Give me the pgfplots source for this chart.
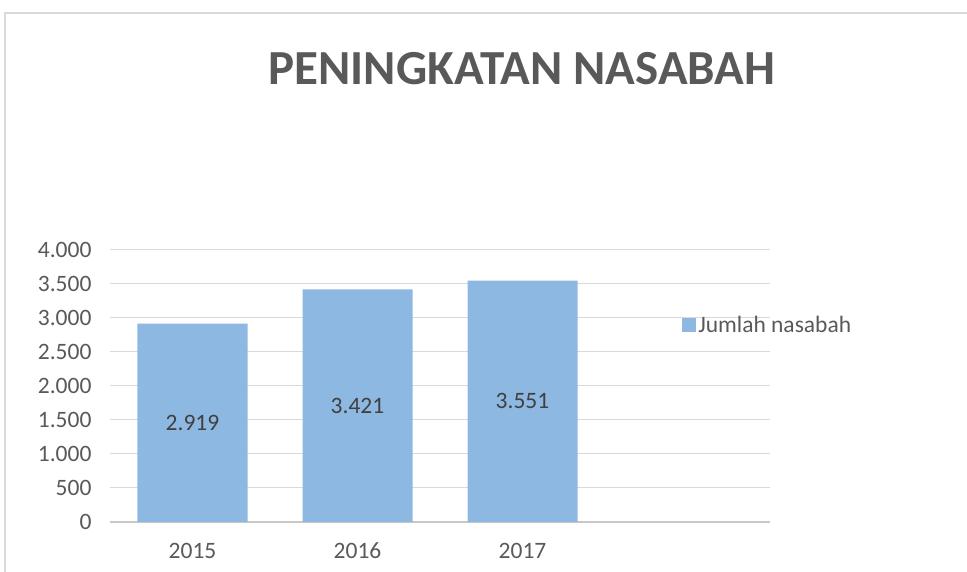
\documentclass[border=0pt]{standalone}
\usepackage{fontspec}
\setmainfont{Carlito}
\usepackage{pgfplots}
\pgfplotsset{compat=1.18}
\definecolor{barblue}{HTML}{8DB8E2}
\definecolor{txtgray}{HTML}{595959}
\definecolor{lblgray}{HTML}{404040}
\definecolor{gridgray}{HTML}{D9D9D9}
\begin{document}
\begin{tikzpicture}
\path[use as bounding box] (0,0) rectangle (967bp,572bp);
\draw[gridgray, line width=1.5bp] (5bp,0) -- (5bp,559bp) -- (967bp,559bp);
\node[font=\fontsize{49bp}{54bp}\selectfont\bfseries, text=txtgray] at (522bp,503bp) {PENINGKATAN NASABAH};
\begin{axis}[
  at={(110bp,50bp)}, anchor=south west,
  scale only axis, width=660bp, height=272bp,
  xmin=-0.5, xmax=3.5, ymin=0, ymax=4000,
  ytick={0,500,...,4000},
  xtick={0,1,2}, xticklabels={2015,2016,2017},
  axis x line*=bottom, axis y line*=left,
  x axis line style={draw=gridgray!80!gray, line width=1.2bp, -},
  y axis line style={draw=none},
  major tick length=0pt,
  ymajorgrids, grid style={gridgray, line width=1bp},
  /pgf/number format/.cd, 1000 sep={.}, assume math mode=true,
  /pgfplots/.cd,
  ticklabel style={font=\fontsize{23.5bp}{28bp}\selectfont, text=txtgray},
  xticklabel style={anchor=base, yshift=-37bp},
  yticklabel style={xshift=-15bp},
  legend style={draw=none, fill=none, at={(axis description cs:0.866,0.724)}, anchor=west,
    font=\fontsize{23.5bp}{28bp}\selectfont, text=txtgray, inner sep=0pt,
    nodes={inner sep=2.5bp}},
  legend image code/.code={\fill[barblue] (0bp,-7bp) rectangle (14bp,7bp);},
]
\addplot[ybar, bar width=110bp, fill=barblue, draw=none,
  visualization depends on={y \as \rawy},
  nodes near coords,
  nodes near coords style={anchor=center, font=\fontsize{23.5bp}{28bp}\selectfont, text=lblgray, yshift={-0.034*\rawy*1bp}},
] coordinates {(0,2919) (1,3421) (2,3551)};
\addlegendentry{Jumlah nasabah}
\end{axis}
\end{tikzpicture}
\end{document}
